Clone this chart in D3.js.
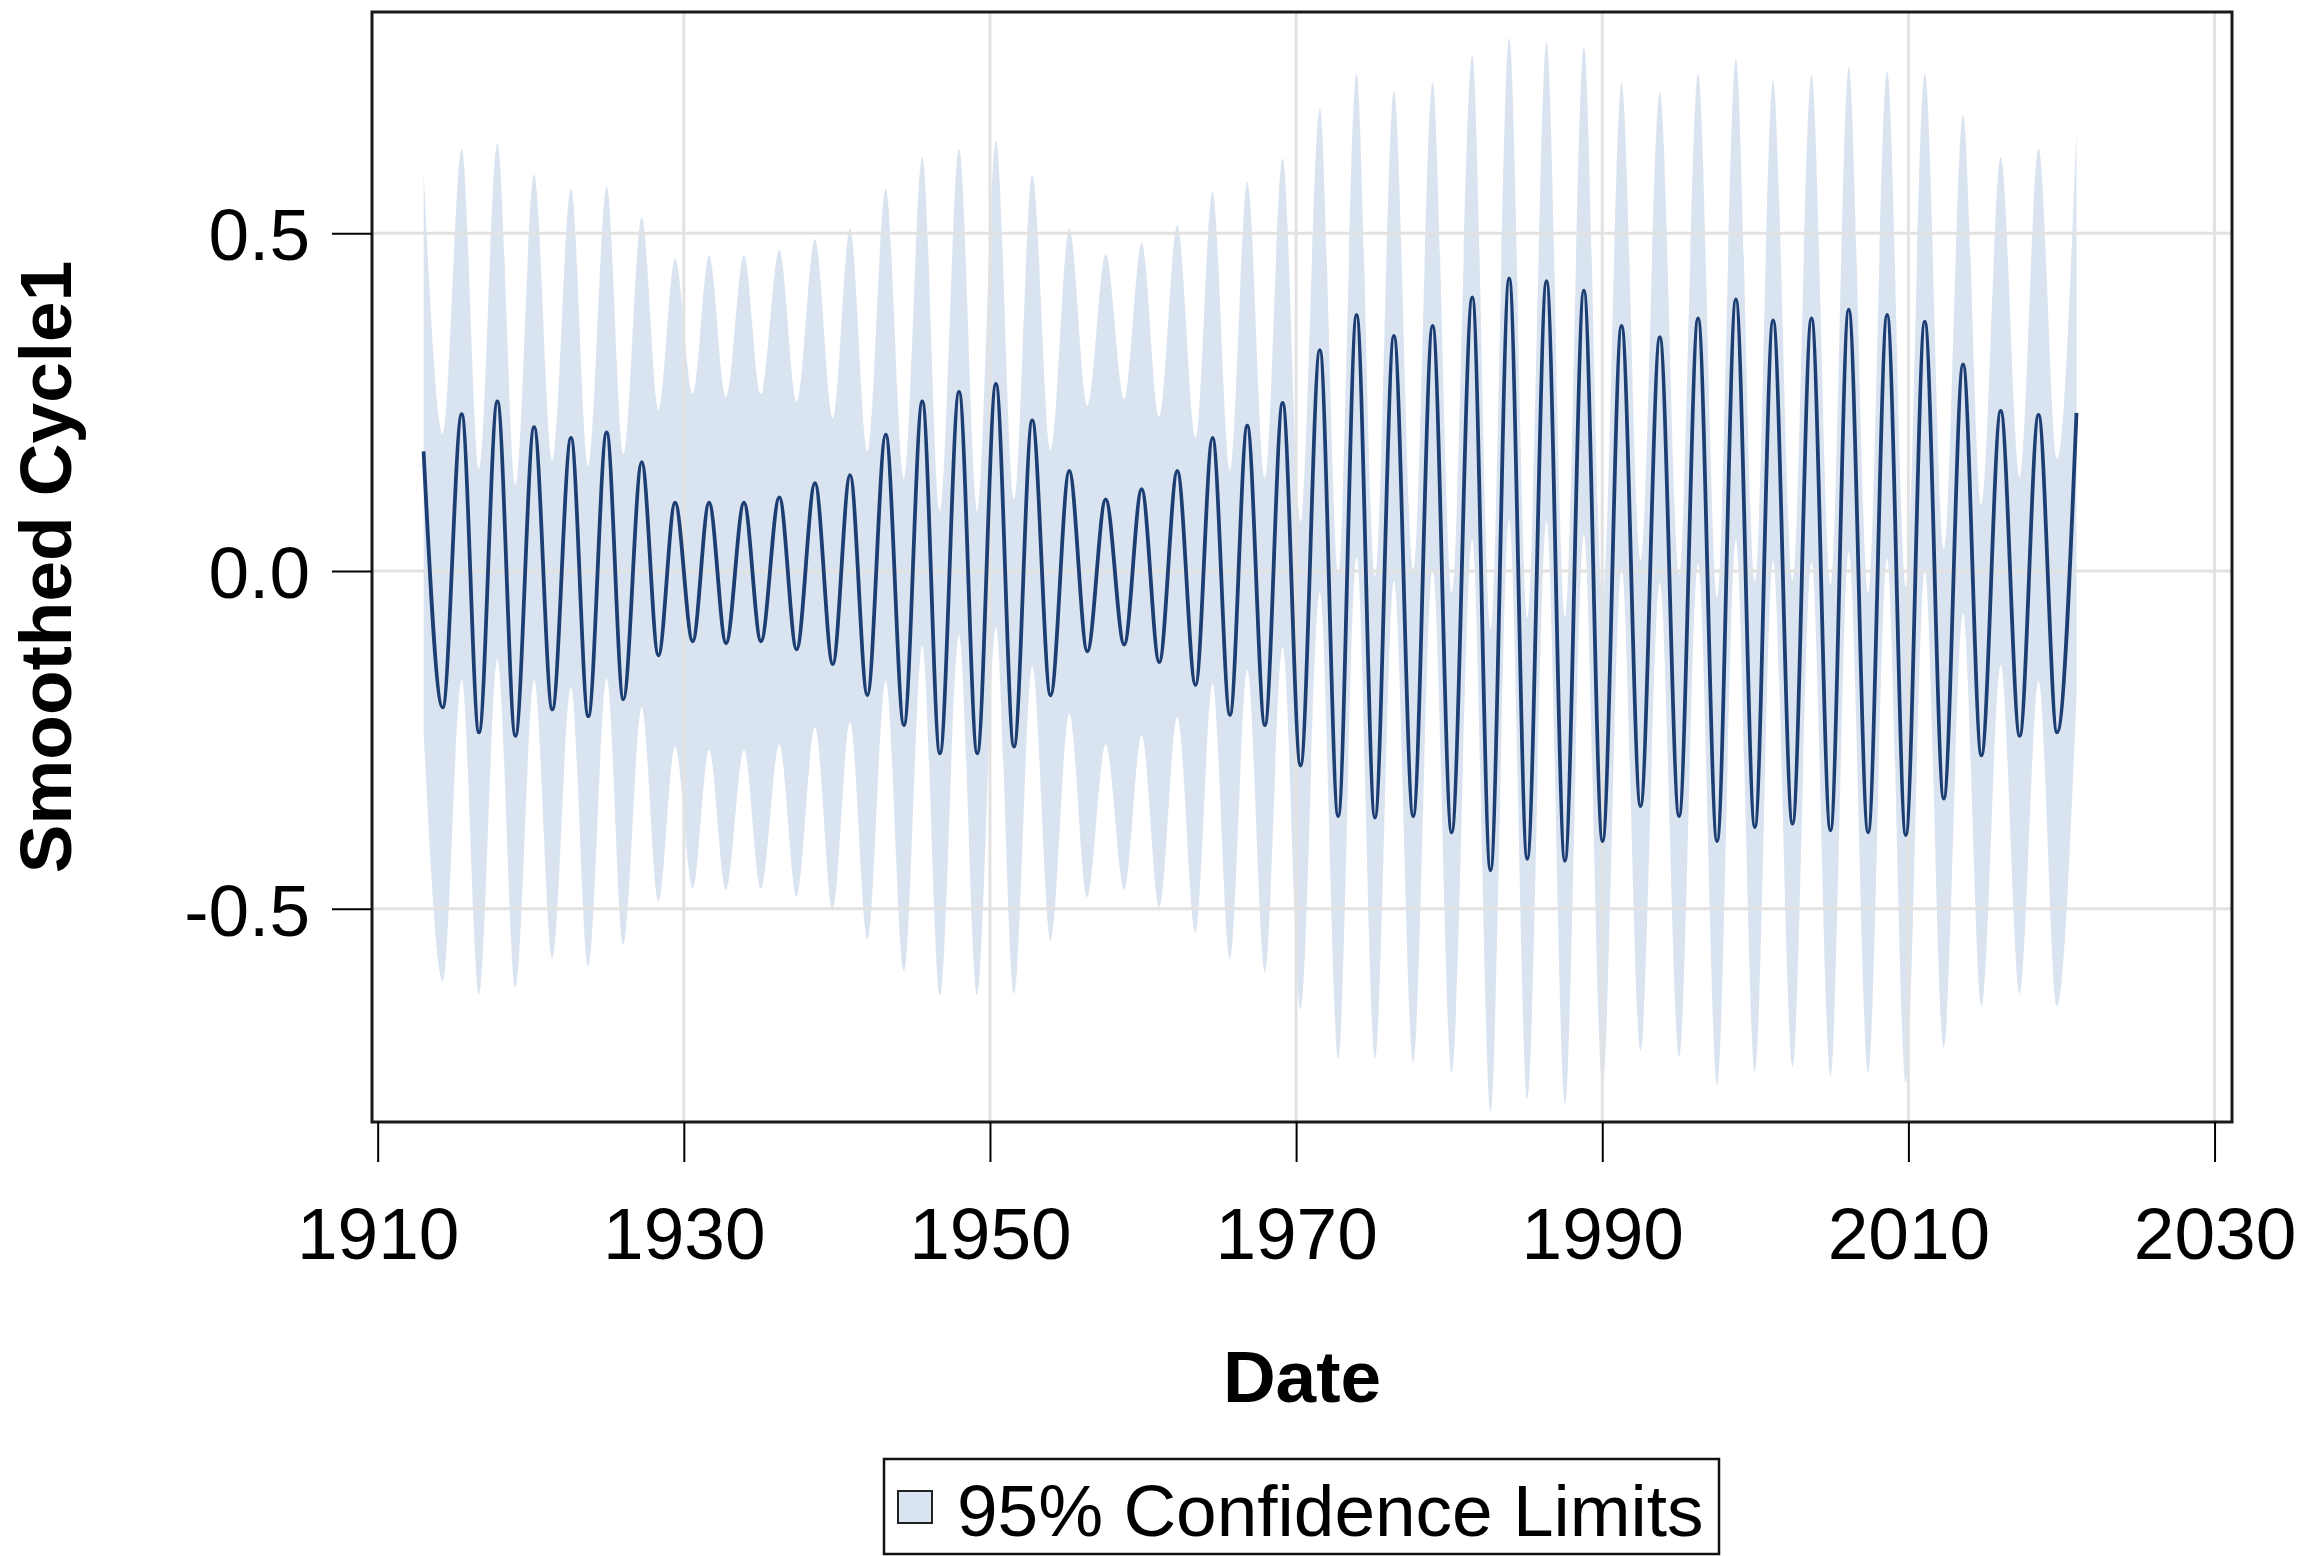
<!DOCTYPE html>
<html>
<head>
<meta charset="utf-8">
<title>Smoothed Cycle1</title>
<script src="https://cdn.jsdelivr.net/npm/d3@7"></script>
<style>
  html, body { margin: 0; padding: 0; background: #ffffff; }
  svg { display: block; }
  text { font-family: "Liberation Sans", Arial, Helvetica, sans-serif; fill: #000; }
</style>
</head>
<body>
<svg id="chart" width="2307" height="1556"></svg>
<script>
// Turning points of the smoothed cycle (decimal years) and the value at each one
const extremaDates = [
  1913.00, 1914.25, 1915.49, 1916.62, 1917.82, 1919.00, 1920.22, 1921.41, 1922.63, 1923.76,
  1924.96, 1926.05, 1927.25, 1928.34, 1929.43, 1930.58, 1931.65, 1932.76, 1933.93, 1935.04,
  1936.24, 1937.37, 1938.57, 1939.73, 1940.86, 1941.99, 1943.19, 1944.38, 1945.58, 1946.73,
  1947.98, 1949.17, 1950.39, 1951.57, 1952.76, 1953.96, 1955.18, 1956.36, 1957.56, 1958.77,
  1959.91, 1961.06, 1962.24, 1963.43, 1964.54, 1965.68, 1966.81, 1967.96, 1969.12, 1970.29,
  1971.55, 1972.75, 1973.95, 1975.15, 1976.39, 1977.65, 1978.92, 1980.16, 1981.51, 1982.70,
  1983.92, 1985.10, 1986.36, 1987.56, 1988.80, 1990.02, 1991.26, 1992.50, 1993.76, 1995.02,
  1996.26, 1997.50, 1998.73, 1999.97, 2001.16, 2002.43, 2003.67, 2004.91, 2006.10, 2007.37,
  2008.61, 2009.83, 2011.07, 2012.31, 2013.57, 2014.77, 2016.03, 2017.27, 2018.50, 2019.71,
  2020.98
];

const cycleValues = [
   0.177, -0.202,  0.232, -0.239,  0.251, -0.244,  0.213, -0.205,  0.197, -0.215,
   0.205, -0.190,  0.161, -0.125,  0.101, -0.104,  0.101, -0.107,  0.101, -0.104,
   0.109, -0.116,  0.130, -0.138,  0.142, -0.184,  0.202, -0.228,  0.251, -0.270,
   0.265, -0.270,  0.277, -0.260,  0.223, -0.184,  0.148, -0.119,  0.106, -0.109,
   0.121, -0.135,  0.148, -0.169,  0.197, -0.213,  0.215, -0.228,  0.249, -0.288,
   0.327, -0.363,  0.379, -0.365,  0.348, -0.363,  0.363, -0.387,  0.405, -0.443,
   0.433, -0.426,  0.429, -0.429,  0.415, -0.400,  0.363, -0.348,  0.346, -0.363,
   0.374, -0.400,  0.402, -0.379,  0.371, -0.374,  0.374, -0.384,  0.387, -0.387,
   0.379, -0.391,  0.369, -0.337,  0.306, -0.273,  0.237, -0.244,  0.231, -0.239,
   0.234
];

// Half-width of the 95% confidence band at each turning point
const ciHalfWidth = [
  0.415, 0.405, 0.393, 0.389, 0.382, 0.372, 0.374, 0.369, 0.369, 0.370,
  0.364, 0.363, 0.363, 0.363, 0.361, 0.366, 0.366, 0.365, 0.366, 0.366,
  0.366, 0.367, 0.361, 0.364, 0.365, 0.361, 0.364, 0.364, 0.362, 0.358,
  0.360, 0.358, 0.360, 0.366, 0.364, 0.363, 0.359, 0.364, 0.363, 0.363,
  0.364, 0.363, 0.364, 0.366, 0.364, 0.361, 0.361, 0.366, 0.362, 0.361,
  0.358, 0.359, 0.358, 0.357, 0.363, 0.364, 0.361, 0.355, 0.358, 0.357,
  0.356, 0.356, 0.355, 0.360, 0.361, 0.363, 0.359, 0.363, 0.363, 0.357,
  0.363, 0.361, 0.356, 0.363, 0.356, 0.360, 0.360, 0.364, 0.359, 0.355,
  0.361, 0.367, 0.368, 0.369, 0.369, 0.371, 0.376, 0.382, 0.394, 0.405,
  0.420
];

const xTickValues = [1910, 1930, 1950, 1970, 1990, 2010, 2030];
const yTickValues = [-0.5, 0.0, 0.5];
const xTitle = "Date";
const yTitle = "Smoothed Cycle1";
const legendLabel = "95% Confidence Limits";

// ---- layout ----
const frame = { left: 372, right: 2232, top: 12, bottom: 1122 };
const colors = {
  band: "#dae4f0",
  line: "#1d3e73",
  grid: "#e2e2e2",
  frame: "#1a1a1a"
};
const fontSize = 73;
const fontFamily = "'Liberation Sans', Arial, sans-serif";

const svg = d3.select("#chart");

const x = d3.scaleLinear()
  .domain([1909.63, 2031.14])
  .range([frame.left, frame.right]);

const y = d3.scaleLinear()
  .domain([-0.8157, 0.8275])
  .range([frame.bottom, frame.top]);

const series = extremaDates.map((d, i) => ({
  date: d,
  value: cycleValues[i],
  hw: ciHalfWidth[i]
}));

// confidence band
const band = d3.area()
  .x(d => x(d.date))
  .y0(d => y(d.value - d.hw))
  .y1(d => y(d.value + d.hw))
  .curve(d3.curveMonotoneX);

svg.append("path")
  .datum(series)
  .attr("d", band)
  .attr("fill", colors.band)
  .attr("stroke", "none");

// grid lines
const grid = svg.append("g").attr("class", "grid");
grid.selectAll("line.vx")
  .data(xTickValues.filter(t => x(t) > frame.left + 6 && x(t) < frame.right - 6))
  .join("line")
  .attr("class", "vx")
  .attr("x1", d => x(d)).attr("x2", d => x(d))
  .attr("y1", frame.top).attr("y2", frame.bottom)
  .attr("stroke", colors.grid)
  .attr("stroke-width", 3);
grid.selectAll("line.hy")
  .data(yTickValues)
  .join("line")
  .attr("class", "hy")
  .attr("x1", frame.left).attr("x2", frame.right)
  .attr("y1", d => y(d)).attr("y2", d => y(d))
  .attr("stroke", colors.grid)
  .attr("stroke-width", 3);

// smoothed cycle line
const line = d3.line()
  .x(d => x(d.date))
  .y(d => y(d.value))
  .curve(d3.curveMonotoneX);

svg.append("path")
  .datum(series)
  .attr("d", line)
  .attr("fill", "none")
  .attr("stroke", colors.line)
  .attr("stroke-width", 3.8)
  .attr("stroke-linejoin", "round");

// frame
svg.append("rect")
  .attr("x", frame.left)
  .attr("y", frame.top)
  .attr("width", frame.right - frame.left)
  .attr("height", frame.bottom - frame.top)
  .attr("fill", "none")
  .attr("stroke", colors.frame)
  .attr("stroke-width", 3);

// axes
const xAxis = d3.axisBottom(x)
  .tickValues(xTickValues)
  .tickFormat(d3.format("d"))
  .tickSize(40)
  .tickSizeOuter(0)
  .tickPadding(45);

const gx = svg.append("g")
  .attr("transform", `translate(0,${frame.bottom})`)
  .call(xAxis);
gx.select(".domain").remove();
gx.selectAll(".tick line").attr("stroke", "#000").attr("stroke-width", 2);
gx.selectAll(".tick text")
  .attr("font-size", fontSize)
  .attr("font-family", fontFamily)
  .attr("fill", "#000");

// plain hyphen for negative tick values
const fmtY = v => d3.format(".1f")(v).replace("\u2212", "-");

const yAxis = d3.axisLeft(y)
  .tickValues(yTickValues)
  .tickFormat(fmtY)
  .tickSize(40)
  .tickSizeOuter(0)
  .tickPadding(22);

const gy = svg.append("g")
  .attr("transform", `translate(${frame.left},0)`)
  .call(yAxis);
gy.select(".domain").remove();
gy.selectAll(".tick line").attr("stroke", "#000").attr("stroke-width", 2);
gy.selectAll(".tick text")
  .attr("font-size", fontSize)
  .attr("font-family", fontFamily)
  .attr("fill", "#000")
  .attr("dy", "0.36em");

// axis titles
svg.append("text")
  .attr("x", (frame.left + frame.right) / 2)
  .attr("y", 1402)
  .attr("text-anchor", "middle")
  .attr("font-size", fontSize)
  .attr("font-weight", "bold")
  .text(xTitle);

svg.append("text")
  .attr("transform", `translate(71,${(frame.top + frame.bottom) / 2}) rotate(-90)`)
  .attr("text-anchor", "middle")
  .attr("font-size", fontSize)
  .attr("font-weight", "bold")
  .text(yTitle);

// legend
const legend = svg.append("g");
legend.append("rect")
  .attr("x", 884).attr("y", 1459)
  .attr("width", 835).attr("height", 95)
  .attr("fill", "#fff")
  .attr("stroke", "#111")
  .attr("stroke-width", 2.5);
legend.append("rect")
  .attr("x", 898).attr("y", 1491)
  .attr("width", 34).attr("height", 32)
  .attr("fill", colors.band)
  .attr("stroke", "#222")
  .attr("stroke-width", 2);
legend.append("text")
  .attr("x", 957).attr("y", 1536)
  .attr("font-size", fontSize)
  .text(legendLabel);
</script>
</body>
</html>
